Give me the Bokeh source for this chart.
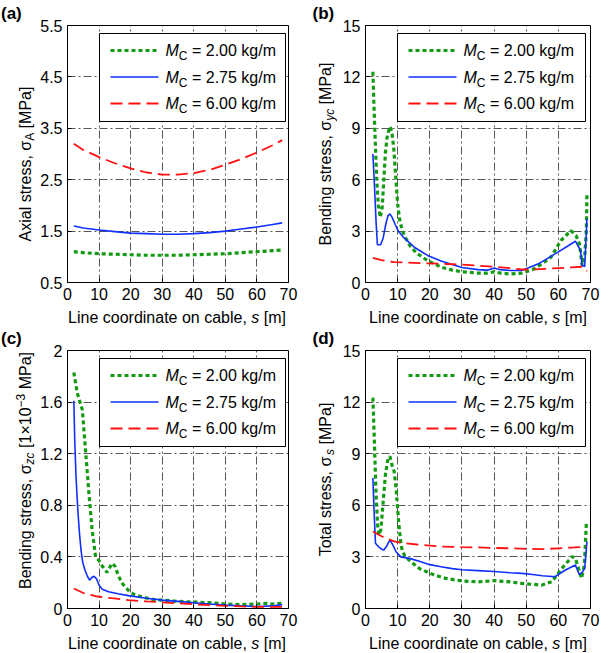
import math
from bokeh.plotting import figure
from bokeh.models import Range1d, FixedTicker, Label, BoxAnnotation, Arrow
from bokeh.layouts import column, row
from bokeh.embed import file_html
from bokeh.resources import INLINE

# ---------------- data ----------------
x_ticks = [0, 10, 20, 30, 40, 50, 60, 70]
legend_values = ["2.00", "2.75", "6.00"]

# (a) axial stress
a_s = [2, 5, 10, 15, 20, 25, 30, 35, 40, 45, 50, 55, 60, 65, 68]
a_green = [1.10, 1.08, 1.06, 1.05, 1.04, 1.03, 1.03, 1.03, 1.04, 1.05, 1.06, 1.08, 1.10, 1.12, 1.13]
a_blue = [1.60, 1.56, 1.52, 1.49, 1.46, 1.45, 1.44, 1.44, 1.45, 1.47, 1.50, 1.54, 1.58, 1.63, 1.66]
a_red = [3.20, 3.08, 2.94, 2.82, 2.72, 2.64, 2.60, 2.60, 2.63, 2.69, 2.79, 2.90, 3.03, 3.17, 3.27]
a_yticks = [0.5, 1.5, 2.5, 3.5, 4.5, 5.5]

# (b) bending stress sigma_yc
b_green_s = [2.3, 2.6, 3.0, 3.5, 4.0, 4.6, 5.2, 5.7, 6.2, 6.8, 7.6, 8.2, 8.8, 9.4, 10.0, 10.6, 11.5,
             12.5, 14, 16, 19.3, 23.5, 27, 30, 35, 38, 40, 42, 45, 48.6, 52, 54.9, 57.7, 60.8,
             63.9, 65.5, 66.6, 67.4, 68.2, 68.7, 68.9]
b_green = [12.3, 10.5, 8.4, 6.0, 4.5, 3.8, 4.4, 6.0, 7.6, 8.6, 9.1, 8.8, 7.8, 6.2, 4.6, 3.7, 3.0,
           2.6, 2.1, 1.7, 1.28, 0.9, 0.72, 0.63, 0.55, 0.55, 0.62, 0.55, 0.5, 0.55, 0.75, 1.09, 1.48, 2.45,
           3.03, 2.74, 2.26, 0.99, 1.5, 3.0, 5.18]
b_blue_s = [2.3, 2.8, 3.3, 3.7, 4.7, 5.5, 6.3, 7.0, 7.6, 8.3, 9.2, 10.2, 12, 15.2, 19.3, 23.5, 30,
            35, 38, 40, 42, 45, 48.6, 53.8, 59, 63.2, 65.3, 66.9, 67.4, 68.2, 68.9]
b_blue = [7.5, 5.6, 3.5, 2.2, 2.2, 2.6, 3.4, 3.9, 4.0, 3.8, 3.4, 3.0, 2.6, 2.06, 1.58, 1.25, 0.88,
          0.75, 0.72, 0.85, 0.75, 0.7, 0.7, 1.09, 1.67, 2.16, 2.41, 1.87, 0.99, 0.93, 3.72]
b_red_s = [2.3, 5, 8.9, 15, 19.3, 25, 30, 35, 40, 45, 48.6, 52, 56, 60, 64, 67.4, 68.2, 68.9]
b_red = [1.44, 1.3, 1.19, 1.15, 1.12, 1.08, 1.04, 0.98, 0.92, 0.84, 0.76, 0.76, 0.8, 0.84, 0.88, 0.92, 0.85, 0.66]
b_yticks = [0, 3, 6, 9, 12, 15]

# (c) bending stress sigma_zc
c_green_s = [2, 3.1, 4.7, 5.7, 6.8, 7.8, 8.9, 10, 11, 12.5, 14.1, 15, 16.2, 17.5, 19.3, 21, 23.5, 27,
             30, 35, 40, 45, 50, 55, 60, 63, 65, 68]
c_green = [1.83, 1.67, 1.54, 1.23, 0.89, 0.61, 0.40, 0.37, 0.33, 0.28, 0.35, 0.33, 0.25, 0.19, 0.14,
           0.11, 0.09, 0.07, 0.065, 0.055, 0.05, 0.045, 0.035, 0.03, 0.035, 0.04, 0.035, 0.04]
c_blue_s = [2, 2.3, 2.7, 3.3, 3.8, 4.3, 4.8, 5.5, 6.3, 7.0, 7.7, 8.4, 9.2, 10, 11, 13, 16, 19.3, 25,
            30, 35, 40, 45, 50, 55, 60, 65, 68]
c_blue = [1.61, 1.3, 1.02, 0.75, 0.58, 0.45, 0.36, 0.3, 0.25, 0.22, 0.24, 0.25, 0.23, 0.18, 0.15,
          0.13, 0.115, 0.10, 0.08, 0.065, 0.055, 0.045, 0.035, 0.026, 0.02, 0.015, 0.02, 0.03]
c_red_s = [2, 5, 8.9, 14, 19.3, 25, 30, 35, 40, 45, 50, 55, 60, 65, 68]
c_red = [0.155, 0.12, 0.095, 0.08, 0.065, 0.055, 0.048, 0.04, 0.033, 0.026, 0.02, 0.016, 0.013, 0.012, 0.012]
c_yticks = [0, 0.4, 0.8, 1.2, 1.6, 2]

# (d) total stress
d_green_s = [2.3, 2.8, 3.3, 3.8, 4.2, 4.8, 5.5, 6.2, 6.9, 7.6, 8.3, 8.9, 9.5, 10.0, 10.4, 11.0, 11.5,
             12.5, 14.1, 17, 21.4, 25, 30, 35, 40, 45, 48.6, 51, 54.9, 58, 61.1, 64.3, 65.3, 66.3,
             67.2, 68.1, 68.7]
d_green = [12.26, 9.5, 6.5, 4.8, 4.28, 4.6, 6.2, 7.8, 8.6, 8.85, 8.3, 7.98, 7.0, 5.8, 4.86, 3.8, 3.3,
           3.0, 2.72, 2.3, 1.95, 1.75, 1.6, 1.55, 1.62, 1.55, 1.46, 1.42, 1.36, 1.56, 2.33, 3.02, 2.9,
           2.33, 1.75, 2.53, 4.96]
d_blue_s = [2.3, 2.7, 3.1, 4.0, 5.0, 5.7, 6.5, 7.6, 8.5, 9.5, 11, 14, 17.2, 20, 23.5, 27, 30, 35, 40,
            45, 48.6, 52, 55, 59, 62.2, 65.3, 66.5, 67.4, 68.2, 68.9]
d_blue = [7.59, 5.5, 3.8, 3.6, 3.45, 3.4, 3.6, 3.99, 3.7, 3.3, 3.0, 2.9, 2.72, 2.55, 2.43, 2.32, 2.25,
          2.2, 2.15, 2.08, 2.04, 1.98, 1.9, 1.85, 2.24, 2.53, 1.98, 2.1, 2.34, 3.9]
d_red_s = [2.3, 5, 8.9, 12, 16, 20, 23.5, 30, 35, 40, 45, 50, 55, 60, 65, 68.9]
d_red = [4.48, 4.2, 3.9, 3.8, 3.72, 3.66, 3.6, 3.57, 3.55, 3.52, 3.5, 3.47, 3.45, 3.5, 3.55, 3.6]
d_yticks = [0, 3, 6, 9, 12, 15]

# ---------------- styling ----------------
FONT = "Liberation Sans"
STYLES = [
    dict(line_color="#139a13", line_width=3.2, line_dash="4 3"),
    dict(line_color="#1030ff", line_width=1.6, line_dash="solid"),
    dict(line_color="#ff1010", line_width=1.8, line_dash="12 6"),
]

W = {' ': 278, ',': 278, '.': 278, '[': 278, ']': 278, '(': 333, ')': 333, '=': 584, '/': 278,
     '×': 584, '−': 584, 'A': 667, 'B': 667, 'C': 722, 'L': 556, 'M': 833, 'P': 667, 'T': 611,
     'a': 556, 'b': 556, 'c': 500, 'd': 556, 'e': 556, 'g': 556, 'i': 222, 'k': 500, 'l': 222,
     'm': 833, 'n': 556, 'o': 556, 'r': 333, 's': 500, 't': 278, 'x': 500, 'y': 500, 'z': 500,
     'σ': 617}
for ch in "0123456789":
    W[ch] = 556

MID = 0.35  # distance from baseline to the middle of the em box, in em


def tw(s, size):
    return sum(W.get(ch, 556) for ch in s) * size / 1000.0


def lbl(p, text, x, y, size, style="normal", vertical=False):
    """(x, y) is the baseline start point; labels are anchored at their vertical middle."""
    if vertical:
        ax, ay, angle = x - MID * size, y, math.pi / 2
    else:
        ax, ay, angle = x, y + MID * size, 0.0
    p.add_layout(Label(x=ax, y=ay, x_units="screen", y_units="screen", text=text,
                       text_font=FONT, text_font_size=f"{size}px", text_font_style=style,
                       text_color="black", text_align="left", text_baseline="middle",
                       angle=angle))


def run_text(p, pieces, start, fixed, vertical):
    """Place text pieces one after another; leading blanks become offsets."""
    pos = start
    for t, s, st, sh in pieces:
        stripped = t.lstrip(" ")
        pos += tw(t[:len(t) - len(stripped)], s)
        if vertical:
            lbl(p, stripped, fixed - sh, pos, s, st, vertical=True)
        else:
            lbl(p, stripped, pos, fixed + sh, s, st)
        pos += tw(stripped, s)


def total_w(pieces):
    return sum(tw(t, s) for t, s, _, _ in pieces)


def blank_fig(w, h):
    f = figure(width=w, height=h, x_range=Range1d(0, 1), y_range=Range1d(0, 1), title=None,
               x_axis_type=None, y_axis_type=None, output_backend="svg", toolbar_location=None,
               min_border_left=0, min_border_right=0, min_border_top=0, min_border_bottom=0,
               frame_align=False)
    f.outline_line_color = None
    f.background_fill_color = "white"
    f.border_fill_color = "white"
    return f


# layout geometry per column / row (page has no extra margin)
COL = [dict(ylw=37, mw=264, bl=28, br=13, base=30.5, tag_x=0.5),
       dict(ylw=36, mw=265, bl=28, br=12, base=29.5, tag_x=11)]
ROW = [dict(mh=308, bt=25, bb=26, xh=20, tag_top=18.5, xbase=5.0),
       dict(mh=306, bt=22, bb=26, xh=18, tag_top=16, xbase=3.6)]

XLAB = [("Line coordinate on cable, ", 16, "normal", 0), ("s", 16, "italic", 0), (" [m]", 16, "normal", 0)]


def make_panel(tag, series, yr, yticks, ylab, c, r, ylab_off, overrides=None):
    C, R = COL[c], ROW[r]
    fw = C["mw"] - C["bl"] - C["br"]
    fh = R["mh"] - R["bt"] - R["bb"]
    p = figure(width=C["mw"], height=R["mh"], x_range=Range1d(0, 70), y_range=Range1d(*yr),
               title=None, output_backend="svg", toolbar_location=None, frame_align=False,
               min_border_left=C["bl"], min_border_right=C["br"],
               min_border_top=R["bt"], min_border_bottom=R["bb"])
    p.background_fill_color = "white"
    p.border_fill_color = "white"
    p.outline_line_color = "black"
    p.outline_line_width = 1
    p.outline_line_alpha = 1

    xt = FixedTicker(ticks=x_ticks)
    yt = FixedTicker(ticks=yticks)
    p.xaxis.ticker = xt
    p.yaxis.ticker = yt
    for ax in (p.xaxis[0], p.yaxis[0]):
        ax.major_tick_in = 4
        ax.major_tick_out = 0
        ax.minor_tick_line_color = None
        ax.major_tick_line_color = "black"
        ax.axis_line_color = "black"
        ax.major_label_text_font = FONT
        ax.major_label_text_font_size = "16px"
        ax.major_label_text_color = "black"
        ax.major_label_standoff = 5
    if overrides:
        p.yaxis[0].major_label_overrides = overrides

    for g, tk in ((p.xgrid[0], xt), (p.ygrid[0], yt)):
        g.ticker = tk
        g.grid_line_color = "#444444"
        g.grid_line_width = 1
        g.grid_line_dash = "8 3 2 3"
        g.grid_line_alpha = 0.9

    for (xs, ys), st in zip(series, STYLES):
        p.line(xs, ys, **st)

    # legend (drawn inside the frame)
    left, right = 32, fw - 5
    top = fh - 8
    bottom = top - 88
    p.add_layout(BoxAnnotation(left=left, right=right, top=top, bottom=bottom,
                               left_units="screen", right_units="screen",
                               top_units="screen", bottom_units="screen",
                               fill_color="white", fill_alpha=1.0,
                               line_color="black", line_width=1, line_alpha=1.0))
    for i, (val, st) in enumerate(zip(legend_values, STYLES)):
        yc = top - 17 - 26.5 * i
        p.add_layout(Arrow(x_start=left + 11, y_start=yc, x_end=left + 59, y_end=yc,
                           start_units="screen", end_units="screen", start=None, end=None,
                           **st))
        run_text(p, [("M", 16, "italic", 0), ("C", 12, "normal", -4),
                     (f" = {val} kg/m", 16, "normal", 0)], left + 66, yc - 5.7, False)

    # y label + panel tag
    yf = blank_fig(C["ylw"], R["mh"])
    lbl(yf, tag, C["tag_x"], R["mh"] - R["tag_top"], 17, "bold")
    cy = R["bb"] + fh / 2 - ylab_off
    run_text(yf, ylab, cy - total_w(ylab) / 2, C["base"], True)

    # x label
    xf = blank_fig(C["ylw"] + C["mw"], R["xh"])
    cx = C["ylw"] + C["bl"] + fw / 2
    run_text(xf, XLAB, cx - total_w(XLAB) / 2, R["xbase"], False)
    return yf, p, xf


ya, pa, xa = make_panel("(a)", [(a_s, a_green), (a_s, a_blue), (a_s, a_red)], (0.5, 5.5), a_yticks,
                        [("Axial stress, σ", 16, "normal", 0), ("A", 12, "normal", -3),
                         (" [MPa]", 16, "normal", 0)], 0, 0, 10)
yb, pb, xb = make_panel("(b)", [(b_green_s, b_green), (b_blue_s, b_blue), (b_red_s, b_red)], (0, 15), b_yticks,
                        [("Bending stress, σ", 16, "normal", 0), ("yc", 12, "italic", -3),
                         (" [MPa]", 16, "normal", 0)], 1, 0, 0)
yc_, pc, xc = make_panel("(c)", [(c_green_s, c_green), (c_blue_s, c_blue), (c_red_s, c_red)], (0, 2), c_yticks,
                         [("Bending stress, σ", 16, "normal", 0), ("zc", 12, "italic", -3),
                          (" [1×10", 16, "normal", 0), ("−3", 12, "normal", 6), (" MPa]", 16, "normal", 0)],
                         0, 1, -9, overrides={0: "0", 2: "2"})
yd, pd_, xd = make_panel("(d)", [(d_green_s, d_green), (d_blue_s, d_blue), (d_red_s, d_red)], (0, 15), d_yticks,
                         [("Total stress, σ", 16, "normal", 0), ("s", 12, "italic", -3),
                          (" [MPa]", 16, "normal", 0)], 1, 1, 0)

layout = column(row(ya, pa, yb, pb), row(xa, xb), row(yc_, pc, yd, pd_), row(xc, xd))
open("out.html", "w").write(file_html(layout, INLINE))
